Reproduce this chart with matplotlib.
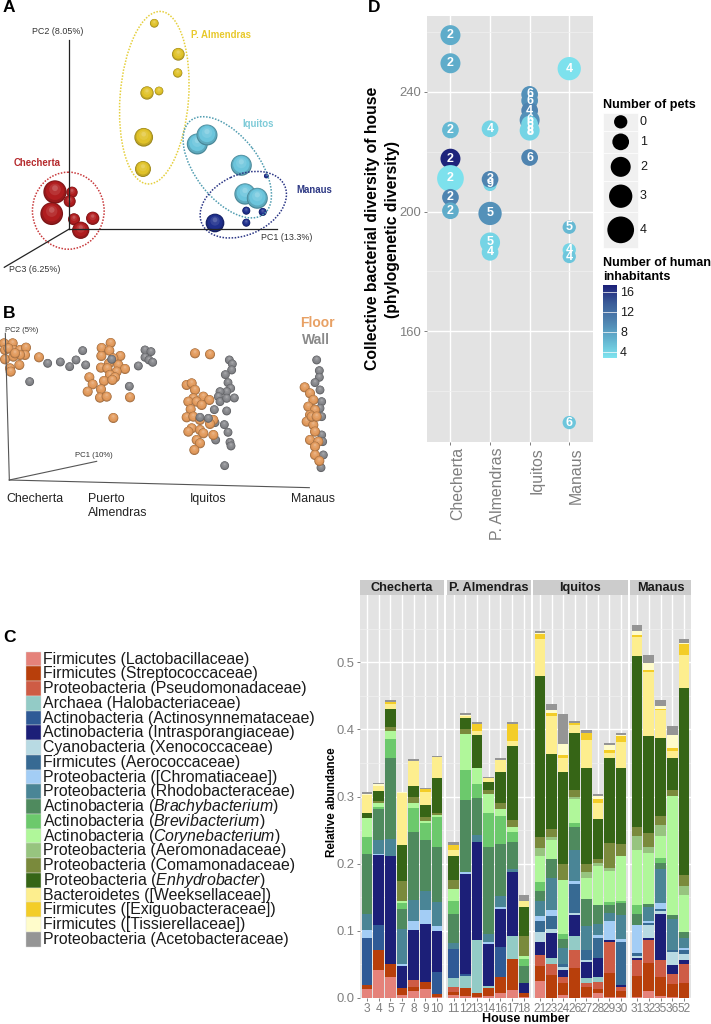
import numpy as np
import matplotlib
matplotlib.use('Agg')
import matplotlib.pyplot as plt
from matplotlib.colors import LinearSegmentedColormap, Normalize, to_rgb
from matplotlib.patches import Circle, Ellipse, Rectangle
from matplotlib.cm import ScalarMappable

plt.rcParams['font.family'] = ['Liberation Sans', 'DejaVu Sans']
plt.rcParams['mathtext.fontset'] = 'custom'
plt.rcParams['mathtext.it'] = 'Liberation Sans:italic'
plt.rcParams['mathtext.rm'] = 'Liberation Sans'

W, H = 711, 1024

# Panel A: PCoA spheres (x, y, diameter on the page)
a_almendras = [(154.3, 23.3, 8.7), (178.3, 54.3, 12.7), (177.7, 73, 9.3), (147, 93, 13.3),
               (159, 91, 8.7), (143.7, 137.3, 18.7), (143, 169, 16)]
a_iquitos = [(197.3, 144, 21), (207, 135, 21), (241.3, 165.3, 21), (245, 194, 21.3), (257.3, 198.3, 21)]
a_manaus = [(266.3, 176, 4.7), (246.3, 210.7, 8), (262.7, 212, 8), (246.3, 222.7, 8), (215, 223, 18.7)]
a_checherta = [(55, 192, 23.3), (51.7, 213.7, 22.7), (72, 192.3, 11.3), (69.7, 201.3, 12),
               (74, 219.3, 12), (92.7, 218.3, 13.3), (80.7, 230.3, 17.3)]

b_wall = [(89, 245), (143, 190), (181, 186), (209, 200), (228, 180), (248, 152), (257, 195), (415, 198),
          (435, 150), (453, 155), (435, 172), (447, 180), (458, 187), (388, 259),
          (688, 180), (697, 192), (695, 210), (676, 224), (684, 248), (692, 265), (680, 275), (660, 275),
          (655, 290), (660, 305), (680, 295), (703, 294), (680, 333), (645, 368), (673, 374), (684, 397),
          (647, 420), (690, 427), (693, 438), (674, 497),
          (950, 180), (958, 212), (958, 232), (945, 248), (960, 270), (965, 305), (960, 325), (965, 350),
          (965, 405), (968, 425), (970, 465), (963, 503)]
b_floor = [(12, 130), (38, 130), (15, 150), (40, 150), (60, 150), (78, 143), (75, 165), (60, 165), (15, 178),
           (40, 170), (30, 205), (58, 195), (32, 215), (117, 172), (25, 145), (45, 160),
           (332, 129), (305, 144), (328, 152), (304, 168), (361, 168), (340, 175), (327, 190), (303, 203),
           (322, 205), (355, 195), (375, 207), (350, 215), (330, 225), (345, 232), (268, 232), (312, 243),
           (337, 240), (278, 253), (263, 275), (303, 268), (300, 293), (320, 290), (390, 292), (340, 354),
           (585, 160), (630, 163), (560, 255), (575, 250), (585, 270), (610, 290), (628, 300), (580, 295),
           (565, 305), (590, 305), (605, 315), (572, 328), (560, 352), (580, 350), (600, 360), (640, 360),
           (630, 372), (575, 385), (600, 390), (565, 395), (610, 400), (640, 405), (590, 420), (600, 430),
           (583, 450),
           (914, 262), (930, 280), (940, 300), (925, 320), (945, 330), (930, 345), (920, 365), (940, 375),
           (945, 395), (930, 420), (955, 425), (945, 440), (945, 465), (958, 483), (935, 350), (950, 350)]
b_wall_front = [(335, 178), (643, 329), (600, 352), (625, 355)]

# Panel C: taxa, bottom of the stack first
taxa = ['lac', 'str', 'pse', 'hal', 'asy', 'int', 'xen', 'aer', 'chr', 'rho',
        'bra', 'bre', 'cor', 'amo', 'com', 'enh', 'wee', 'exi', 'tis', 'ace']
taxa_labels = ['Firmicutes (Lactobacillaceae)', 'Firmicutes (Streptococcaceae)',
               'Proteobacteria (Pseudomonadaceae)', 'Archaea (Halobacteriaceae)',
               'Actinobacteria (Actinosynnemataceae)', 'Actinobacteria (Intrasporangiaceae)',
               'Cyanobacteria (Xenococcaceae)', 'Firmicutes (Aerococcaceae)',
               'Proteobacteria ([Chromatiaceae])', 'Proteobacteria (Rhodobacteraceae)',
               r'Actinobacteria ($\it{Brachybacterium}$)', r'Actinobacteria ($\it{Brevibacterium}$)',
               r'Actinobacteria ($\it{Corynebacterium}$)', 'Proteobacteria (Aeromonadaceae)',
               'Proteobacteria (Comamonadaceae)', r'Proteobacteria ($\it{Enhydrobacter}$)',
               'Bacteroidetes ([Weeksellaceae])', 'Firmicutes ([Exiguobacteraceae])',
               'Firmicutes ([Tissierellaceae])', 'Proteobacteria (Acetobacteraceae)']
taxa_colors = ['#e5827a', '#b83f0b', '#ce5c45', '#93cbc6', '#2f5a96', '#1c1f78', '#b8dae3', '#376a93',
               '#a3cdf5', '#4a8596', '#4f8a5e', '#6cc96c', '#b0f79a', '#97c47f', '#7a8a3c', '#366516',
               '#fdee8e', '#f3cd28', '#fffccb', '#959595']

# top of each taxon in the stack, per house
house_3 = dict(lac=.013, str=.020, int=.090, asy=.095, chr=.101, rho=.125, bra=.215, bre=.239, cor=.268, enh=.275, wee=.302, tis=.304, ace=.306)
house_4 = dict(lac=.042, str=.071, asy=.108, int=.213, chr=.215, rho=.235, bra=.281, bre=.285, cor=.290, com=.293, enh=.308, wee=.316, tis=.318, ace=.320)
house_5 = dict(lac=.031, str=.050, int=.211, rho=.237, bra=.358, bre=.386, cor=.398, com=.404, enh=.430, wee=.438, tis=.441, exi=.442, ace=.444)
house_7 = dict(lac=.004, str=.015, int=.047, chr=.050, rho=.103, bra=.132, bre=.142, cor=.145, com=.174, enh=.228, wee=.305, tis=.307)
house_8 = dict(lac=.011, str=.016, pse=.027, int=.101, chr=.114, rho=.146, bra=.247, bre=.283, cor=.290, com=.300, enh=.316, wee=.353, ace=.356)
house_9 = dict(lac=.013, str=.024, int=.110, chr=.131, rho=.160, bra=.235, bre=.260, cor=.263, com=.270, enh=.287, wee=.306, exi=.311, ace=.313)
house_10 = dict(lac=.002, str=.006, asy=.039, int=.100, chr=.107, rho=.143, bra=.225, bre=.270, cor=.272, com=.276, enh=.328, wee=.359, ace=.361)
house_11 = dict(lac=.004, str=.009, pse=.017, hal=.030, int=.073, asy=.078, rho=.082, bra=.125, bre=.145, cor=.163, com=.175, enh=.212, wee=.220, exi=.228, ace=.232)
house_12 = dict(lac=.003, str=.015, hal=.033, asy=.035, int=.185, chr=.187, bra=.295, bre=.340, cor=.393, com=.400, enh=.417, wee=.420, tis=.422, ace=.424)
house_13 = dict(lac=.002, str=.008, hal=.086, int=.233, rho=.243, bra=.298, bre=.318, cor=.342, com=.343, enh=.391, wee=.398, exi=.408, ace=.411)
house_14 = dict(lac=.003, str=.015, hal=.018, int=.080, chr=.084, rho=.095, bra=.225, bre=.275, cor=.304, com=.310, enh=.322, wee=.327, ace=.329)
house_16 = dict(lac=.007, str=.031, asy=.076, int=.133, chr=.136, rho=.152, bra=.230, bre=.271, cor=.281, com=.290, enh=.336, wee=.355, ace=.357)
house_17 = dict(lac=.012, str=.058, hal=.092, int=.188, rho=.192, bra=.233, bre=.247, cor=.255, com=.265, enh=.375, wee=.383, exi=.408, ace=.411)
house_18 = dict(lac=.002, str=.008, int=.023, bra=.048, bre=.058, cor=.063, com=.093, enh=.135, wee=.144, ace=.153)
house_21 = dict(lac=.025, str=.047, pse=.064, int=.083, xen=.098, aer=.114, chr=.122, rho=.145, bra=.160, bre=.172, cor=.211, amo=.223, com=.239, enh=.479, wee=.534, exi=.542, tis=.543, ace=.547)
house_23 = dict(str=.034, pse=.050, hal=.060, int=.097, xen=.103, aer=.122, chr=.131, rho=.179, bra=.207, cor=.235, amo=.240, com=.252, enh=.363, wee=.420, exi=.425, tis=.429, ace=.437)
house_24 = dict(lac=.005, str=.023, pse=.031, int=.042, xen=.046, aer=.051, rho=.074, bra=.088, bre=.096, cor=.176, com=.199, enh=.337, wee=.357, exi=.362, tis=.378, ace=.423)
house_26 = dict(str=.045, pse=.071, hal=.093, int=.124, xen=.126, aer=.169, chr=.174, rho=.221, bra=.255, bre=.261, cor=.297, amo=.300, com=.309, enh=.394, wee=.406, exi=.410, ace=.413)
house_27 = dict(lac=.002, str=.017, pse=.022, hal=.030, int=.054, xen=.057, aer=.071, rho=.107, bra=.147, cor=.179, amo=.187, com=.199, enh=.342, wee=.384, exi=.394, ace=.399)
house_28 = dict(lac=.007, str=.014, pse=.024, hal=.032, int=.060, aer=.090, chr=.094, rho=.110, bra=.138, cor=.196, amo=.201, com=.207, enh=.267, wee=.291, exi=.297, tis=.301, ace=.303)
house_29 = dict(lac=.002, str=.037, pse=.083, xen=.086, int=.096, chr=.114, rho=.127, bra=.139, bre=.143, cor=.189, amo=.194, com=.231, enh=.357, wee=.365, exi=.369, tis=.377, ace=.380)
house_30 = dict(lac=.001, str=.011, pse=.017, xen=.019, int=.077, aer=.084, chr=.088, rho=.123, bra=.142, bre=.145, cor=.212, com=.230, enh=.342, wee=.381, exi=.390, tis=.392, ace=.394)
house_31 = dict(lac=.002, str=.033, pse=.056, int=.059, xen=.062, aer=.067, chr=.109, bra=.125, bre=.139, cor=.220, amo=.241, com=.254, enh=.509, wee=.538, exi=.541, tis=.547, ace=.555)
house_32 = dict(lac=.011, str=.052, pse=.087, int=.089, xen=.108, aer=.111, chr=.115, rho=.136, bra=.140, cor=.216, amo=.225, com=.245, enh=.390, wee=.486, exi=.489, tis=.499, ace=.511)
house_35 = dict(lac=.003, str=.032, pse=.057, int=.125, xen=.129, aer=.133, chr=.141, rho=.192, bra=.201, bre=.208, cor=.241, amo=.258, com=.271, enh=.387, wee=.429, exi=.431, tis=.434, ace=.444)
house_36 = dict(lac=.002, str=.021, pse=.035, int=.049, xen=.068, aer=.072, rho=.118, bra=.123, cor=.301, com=.310, enh=.358, wee=.368, exi=.372, tis=.391, ace=.405)
house_52 = dict(str=.022, pse=.051, int=.056, xen=.066, aer=.072, chr=.075, rho=.089, bra=.098, cor=.154, amo=.167, com=.183, enh=.461, wee=.511, exi=.527, tis=.529, ace=.535)

facet_names = ['Checherta', 'P. Almendras', 'Iquitos', 'Manaus']
facet_houses = [[3, 4, 5, 7, 8, 9, 10], [11, 12, 13, 14, 16, 17, 18],
                [21, 23, 24, 26, 27, 28, 29, 30], [31, 32, 35, 36, 52]]
facet_tops = [[house_3, house_4, house_5, house_7, house_8, house_9, house_10],
              [house_11, house_12, house_13, house_14, house_16, house_17, house_18],
              [house_21, house_23, house_24, house_26, house_27, house_28, house_29, house_30],
              [house_31, house_32, house_35, house_36, house_52]]
facet_px = [(360, 444), (446.5, 531), (533, 628), (630, 691)]

# Panel D: one entry per house
d_regions = ['Checherta', 'P. Almendras', 'Iquitos', 'Manaus']
d_region = [0, 0, 0, 0, 0, 0, 0,
            1, 1, 1, 1, 1, 1,
            2, 2, 2, 2, 2, 2, 2, 2,
            3, 3, 3, 3, 3]
d_diversity = [259.0, 249.6, 227.3, 217.7, 211.1, 204.8, 200.3,
               227.7, 209.1, 210.8, 199.4, 189.7, 186.4,
               239.2, 237.1, 233.8, 230.6, 229.3, 227.1, 226.5, 218.1,
               247.8, 194.8, 187.2, 185.0, 129.5]
d_pets = [2, 2, 1, 2, 4, 1, 1,
          1, 0, 1, 3, 2, 1,
          1, 1, 1, 2, 1, 2, 0, 1,
          3, 0, 0, 0, 0]
d_humans = [7, 7, 6, 17, 3, 10, 7,
            4, 4, 10, 9, 4, 4,
            9, 9, 10, 9, 4, 4, 4, 10,
            3, 6, 4, 5, 5]
d_labels = ['2', '2', '2', '2', '2', '2', '2',
            '4', '9', '3', '5', '5', '4',
            '6', '6', '4', '6', '6', '8', '8', '6',
            '4', '5', '4', '4', '6']
pets_levels = [0, 1, 2, 3, 4]
pets_diam = [13.3, 16.7, 20, 23.3, 26.7]
human_ticks = [4, 8, 12, 16]


def axes_px(left, top, right, bottom, **kw):
    return fig.add_axes([left / W, 1 - bottom / H, (right - left) / W, (bottom - top) / H], **kw)


def sphere(ax, x, y, d, color):
    # layered discs, dark rim to a soft highlight above the centre
    base = np.array(to_rgb(color))
    steps = [(1.0, base * 0.68), (0.92, base * 0.86), (0.78, base), (0.5, base * 0.9 + 0.1),
             (0.25, base * 0.75 + 0.25)]
    for frac, col in steps:
        off = (1 - frac) * d * 0.22
        ax.add_patch(Circle((x, y - off), d / 2 * frac, facecolor=np.clip(col, 0, 1), edgecolor='none'))


def style_panel(ax):
    ax.set_facecolor('#e3e3e3')
    for s in ax.spines.values():
        s.set_visible(False)
    ax.set_axisbelow(True)
    ax.grid(which='major', color='white', lw=1.0)
    ax.grid(which='minor', color='#f0f0f0', lw=0.5)
    ax.tick_params(which='minor', length=0)
    ax.tick_params(which='major', color='#7f7f7f', labelcolor='#7f7f7f', length=2.5, width=0.7, pad=1.5)


fig = plt.figure(figsize=(W / 100, H / 100), dpi=100)
page = fig.add_axes([0, 0, 1, 1], zorder=0)
page.set_xlim(0, W)
page.set_ylim(H, 0)
page.axis('off')

for letter, lx, ly in [('A', 9.3, 8), ('B', 9.3, 314), ('C', 9.3, 638), ('D', 374.3, 8)]:
    page.text(lx, ly, letter, fontsize=12.5, fontweight='bold', ha='center', va='center', color='black')

# Panel A
page.plot([69.3, 69.3], [40, 229], color='#222222', lw=0.9)
page.plot([69.3, 276.7], [229, 229], color='#222222', lw=0.9)
page.plot([69.3, 4.3], [229, 267.3], color='#222222', lw=0.9)
for pts, col in [(a_almendras, '#e0c22a'), (a_iquitos, '#6cc5dc'), (a_checherta, '#b01d1f'), (a_manaus, '#1f2f8c')]:
    for x, y, d in pts:
        sphere(page, x, y, d, col)
dotted = (0, (1, 1))
page.add_patch(Ellipse((154.3, 97.7), 173, 68.5, angle=-85.6, fill=False, ec='#e5cf3c', lw=1.1, ls=dotted))
page.add_patch(Ellipse((227.3, 167.3), 118.7, 63, angle=52, fill=False, ec='#4f9cb0', lw=1.1, ls=dotted))
page.add_patch(Ellipse((243.3, 204.7), 91, 60, angle=-25, fill=False, ec='#2a3585', lw=1.1, ls=dotted))
page.add_patch(Ellipse((68.3, 210.7), 71.7, 77, fill=False, ec='#c8383a', lw=1.1, ls=dotted))
for txt, x, y in [('PC2 (8.05%)', 57.7, 32), ('PC1 (13.3%)', 286.7, 237), ('PC3 (6.25%)', 35, 269)]:
    page.text(x, y, txt, fontsize=6.4, ha='center', va='center', color='#333333')
for txt, x, y, col in [('P. Almendras', 221, 35, '#e8c92c'), ('Iquitos', 257.7, 123.7, '#7fcbd8'),
                       ('Manaus', 314.3, 190.3, '#2f3a85'), ('Checherta', 37.3, 162.7, '#b5292c')]:
    page.text(x, y, txt, fontsize=6.9, fontweight='bold', ha='center', va='center', color=col)

# Panel B
page.plot([16 / 3, 28 / 3], [300 + 100 / 3, 300 + 540 / 3], color='#555555', lw=0.8)
page.plot([28 / 3, 928 / 3], [300 + 540 / 3, 300 + 563 / 3], color='#555555', lw=0.8)
page.plot([28 / 3, 290 / 3], [300 + 540 / 3, 300 + 484 / 3], color='#555555', lw=0.8)
for x, y in b_wall:
    sphere(page, x / 3, 300 + y / 3, 8.8, '#85868a')
for x, y in b_floor:
    sphere(page, x / 3, 300 + y / 3, 10, '#e29a5c')
for x, y in b_wall_front:
    sphere(page, x / 3, 300 + y / 3, 8.8, '#85868a')
page.text(21.7, 330.7, 'PC2 (5%)', fontsize=5.6, ha='center', va='center', color='#333333')
page.text(94, 455.3, 'PC1 (10%)', fontsize=5.6, ha='center', va='center', color='#333333')
page.text(35, 499.3, 'Checherta', fontsize=8.9, ha='center', va='center', color='#222222')
page.text(88.3, 499.3, 'Puerto', fontsize=8.9, ha='left', va='center', color='#222222')
page.text(88.3, 513.3, 'Almendras', fontsize=8.9, ha='left', va='center', color='#222222')
page.text(208.3, 499.3, 'Iquitos', fontsize=8.9, ha='center', va='center', color='#222222')
page.text(312.7, 499.3, 'Manaus', fontsize=8.9, ha='center', va='center', color='#222222')
page.text(317.3, 322.7, 'Floor', fontsize=10, fontweight='bold', ha='center', va='center', color='#e8a165')
page.text(315.7, 339.7, 'Wall', fontsize=10, fontweight='bold', ha='center', va='center', color='#8a8a8a')

# Panel C legend
for i, (lab, col) in enumerate(zip(taxa_labels, taxa_colors)):
    top = 651.7 + i * 14.75
    page.add_patch(Rectangle((26, top), 14.7, 14.75, facecolor=col, edgecolor='#dddddd', lw=0.3))
    page.text(43.3, top + 7.4, lab, fontsize=11.4, ha='left', va='center', color='#1a1a1a')

# Panel C bars
for f, (name, houses, tops, (x0, x1)) in enumerate(zip(facet_names, facet_houses, facet_tops, facet_px)):
    ax = axes_px(x0, 595, x1, 998, zorder=2)
    style_panel(ax)
    pos = np.arange(1, len(houses) + 1)
    for p, t in zip(pos, tops):
        prev = 0
        for key, col in zip(taxa, taxa_colors):
            if key in t:
                ax.bar(p, t[key] - prev, width=0.9, bottom=prev, color=col, linewidth=0)
                prev = t[key]
    ax.set_xlim(0.4, len(houses) + 0.6)
    ax.set_ylim(0, 0.6)
    ax.set_xticks(pos)
    ax.set_xticklabels(houses, fontsize=8.6)
    ax.set_yticks([0, .1, .2, .3, .4, .5])
    ax.set_yticks([.05, .15, .25, .35, .45, .55], minor=True)
    if f == 0:
        ax.set_yticklabels(['0.0', '0.1', '0.2', '0.3', '0.4', '0.5'], fontsize=9.4)
    else:
        ax.tick_params(axis='y', which='both', length=0, labelleft=False)
    ax.tick_params(axis='x', length=2, pad=1.5)
    page.add_patch(Rectangle((x0, 580), x1 - x0, 15, facecolor='#cccccc', edgecolor='none'))
    page.text((x0 + x1) / 2, 587.8, name, fontsize=9.2, fontweight='bold', ha='center', va='center', color='#1a1a1a')
page.text(331.7, 802, 'Relative abundance', fontsize=8.4, fontweight='bold', rotation=90, ha='center', va='center')
page.text(526, 1019, 'House number', fontsize=9, fontweight='bold', ha='center', va='center')

# Panel D
div_cmap = LinearSegmentedColormap.from_list('humans', ['#7fe5f0', '#63b4d0', '#4f84b0', '#3a5c98', '#1c1f78'])
div_norm = Normalize(2.7, 17.3)
ax = axes_px(426.7, 16, 593, 441.7, zorder=2)
style_panel(ax)
ax.scatter(d_region, d_diversity, s=[(pets_diam[p] * 0.72) ** 2 for p in d_pets], c=d_humans,
           cmap=div_cmap, norm=div_norm, linewidths=0, zorder=3)
for xp, yp, lab in zip(d_region, d_diversity, d_labels):
    ax.text(xp, yp, lab, fontsize=9, fontweight='bold', color='white', ha='center', va='center', zorder=4)
ax.set_xlim(-0.6, 3.6)
ax.set_ylim(123.1, 265.4)
ax.set_yticks([160, 200, 240])
ax.set_yticks([140, 180, 220, 260], minor=True)
ax.set_yticklabels(['160', '200', '240'], fontsize=9.4)
ax.set_xticks(range(4))
ax.set_xticklabels(d_regions, rotation=90, fontsize=11.4, ha='left', va='top')
page.text(372.7, 228, 'Collective bacterial diversity of house', fontsize=11.3, fontweight='bold',
          rotation=90, ha='center', va='center')
page.text(393, 229, '(phylogenetic diversity)', fontsize=11.3, fontweight='bold', rotation=90,
          ha='center', va='center')

# Panel D legends
page.text(603, 105, 'Number of pets', fontsize=9.1, fontweight='bold', ha='left', va='center')
key_edges = [113, 130.7, 153, 180.7, 211.7, 248]
for i, (lev, d) in enumerate(zip(pets_levels, pets_diam)):
    page.add_patch(Rectangle((602.7, key_edges[i]), 35.6, key_edges[i + 1] - key_edges[i], facecolor='#f0f0f0',
                             edgecolor='white', lw=0.5))
    cy = (key_edges[i] + key_edges[i + 1]) / 2
    page.add_patch(Circle((620.7, cy), d / 2, facecolor='black', edgecolor='none'))
    page.text(640, cy, str(lev), fontsize=9, ha='left', va='center', color='#1a1a1a')
page.text(603, 263, 'Number of human', fontsize=9.1, fontweight='bold', ha='left', va='center')
page.text(603, 277, 'inhabitants', fontsize=9.1, fontweight='bold', ha='left', va='center')
cax = axes_px(602.7, 285, 617.3, 358.3, zorder=2)
cb = fig.colorbar(ScalarMappable(norm=div_norm, cmap=div_cmap), cax=cax)
cb.outline.set_visible(False)
cb.set_ticks(human_ticks)
cb.ax.tick_params(length=0, labelsize=9, pad=2, labelcolor='#1a1a1a')
for v in human_ticks:
    cb.ax.plot([0, 1], [v, v], color='white', lw=0.5, transform=cb.ax.get_yaxis_transform())

fig.savefig('out.png', dpi=100, facecolor='white')
